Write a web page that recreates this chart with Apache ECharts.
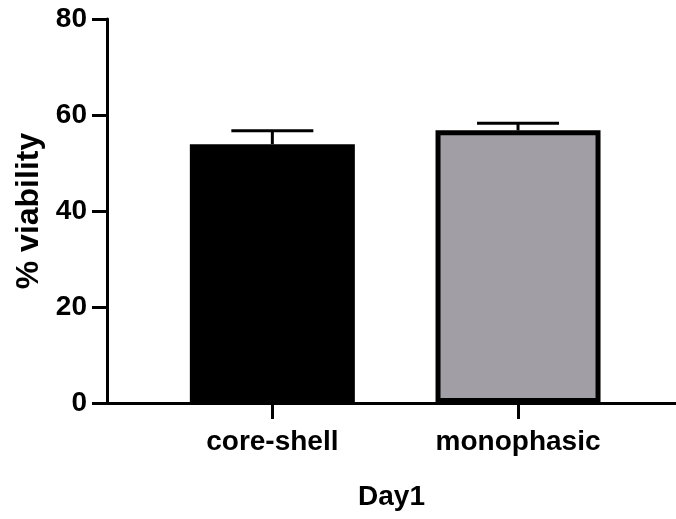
<!DOCTYPE html>
<html><head><meta charset="utf-8">
<script src="https://cdn.jsdelivr.net/npm/echarts@6/dist/echarts.min.js"></script>
<style>html,body{margin:0;padding:0;background:#fff}#c{width:676px;height:519px}</style>
</head><body><div id="c"></div>
<script>
const categories = ['core-shell', 'monophasic'];
const means = [53.9, 56.8];
const errors = [2.8, 1.5];
const barColors = ['#000000', '#a19fa5'];
const yTicks = [0, 20, 40, 60, 80];
const xAxisName = 'Day1';
const yAxisName = '% viability';

const positions = categories.map((c, i) => i + 1);
const FONT = "'Liberation Sans', Arial, sans-serif";

const chart = echarts.init(document.getElementById('c'), null, {renderer: 'canvas'});
chart.setOption({
  animation: false,
  backgroundColor: '#fff',
  grid: {left: 107, right: 0, top: 19, bottom: 116, containLabel: false},
  xAxis: {
    type: 'value', min: 0.327, max: 2.643,
    splitLine: {show: false},
    axisLine: {show: true, lineStyle: {color: '#000', width: 3}},
    axisTick: {show: true, length: 16, lineStyle: {color: '#000', width: 3}, customValues: positions},
    axisLabel: {
      customValues: positions, margin: 25,
      formatter: v => categories[Math.round(v) - 1] || '',
      color: '#000', fontSize: 28, fontWeight: 'bold', fontFamily: FONT
    },
    name: xAxisName, nameLocation: 'middle', nameGap: 80,
    nameTextStyle: {color: '#000', fontSize: 28, fontWeight: 'bold', fontFamily: FONT}
  },
  yAxis: {
    type: 'value', min: yTicks[0], max: yTicks[yTicks.length - 1], interval: 20,
    splitLine: {show: false},
    axisLine: {show: true, lineStyle: {color: '#000', width: 3}},
    axisTick: {show: true, length: 15, lineStyle: {color: '#000', width: 3}},
    axisLabel: {margin: 20, color: '#000', fontSize: 28, fontWeight: 'bold', fontFamily: FONT},
    name: yAxisName, nameLocation: 'middle', nameGap: 59, nameRotate: 90,
    nameTextStyle: {color: '#000', fontSize: 32, fontWeight: 'bold', fontFamily: FONT}
  },
  series: [
    {
      type: 'custom',
      z: 1,
      data: positions.map((p, i) => [p, means[i], errors[i]]),
      renderItem: function (params, api) {
        const x = api.value(0), m = api.value(1), e = api.value(2);
        const base = api.coord([x, m]);
        const top = api.coord([x, m + e]);
        const hw = 41;
        return {
          type: 'group',
          children: [
            {type: 'line', shape: {x1: base[0], y1: base[1], x2: top[0], y2: top[1]}, style: {stroke: '#000', lineWidth: 3}},
            {type: 'line', shape: {x1: top[0] - hw, y1: top[1], x2: top[0] + hw, y2: top[1]}, style: {stroke: '#000', lineWidth: 3}}
          ]
        };
      }
    },
    {
      type: 'bar',
      z: 2,
      barWidth: 165,
      data: positions.map((p, i) => ({
        value: [p, means[i]],
        itemStyle: {color: barColors[i], borderColor: '#000', borderWidth: 5}
      }))
    }
  ]
});
</script></body></html>
